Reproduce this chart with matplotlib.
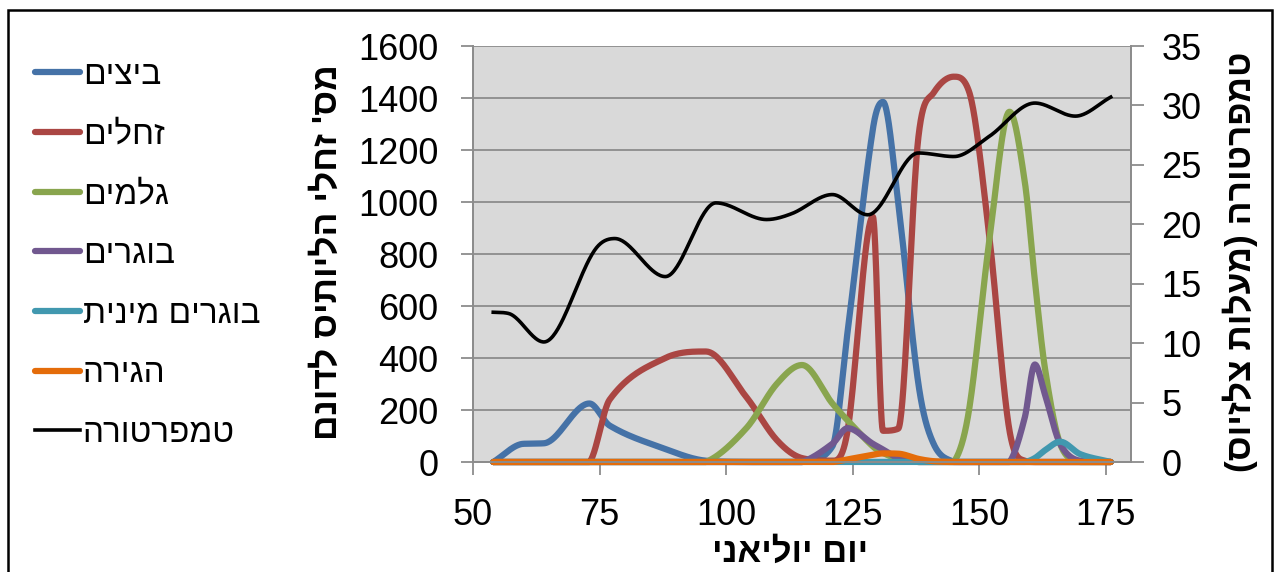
import numpy as np
import matplotlib.pyplot as plt
from matplotlib.patches import Rectangle

plt.rcParams['font.family'] = ['Liberation Sans', 'DejaVu Sans']
NARROW = ['Liberation Sans Narrow', 'Liberation Sans', 'DejaVu Sans']

W, H = 1279, 572

# sampling days (Julian day) for the insect counts
days = [54, 60, 64, 73, 77, 88, 96, 104, 110, 115, 121, 124, 129, 131, 134,
        138, 141, 145, 148, 152, 156, 159, 161, 163, 166, 170, 176]

eggs = [0, 70, 72, 225, 140, 50, 5, 0, 0, 0, 60, 500, 1280, 1385, 1000,
        300, 70, 0, 0, 0, 0, 0, 0, 0, 0, 0, 0]
larvae = [0, 0, 0, 0, 240, 400, 425, 250, 85, 15, 5, 120, 943, 120, 128,
          1250, 1420, 1482, 1425, 870, 120, 5, 0, 0, 0, 0, 0]
pupae = [0, 0, 0, 0, 0, 0, 0, 130, 300, 373, 225, 160, 60, 35, 12,
         0, 0, 0, 200, 850, 1347, 1080, 700, 360, 70, 0, 0]
adults = [0, 0, 0, 0, 0, 0, 0, 0, 0, 0, 70, 130, 70, 48, 15,
          0, 0, 0, 0, 0, 0, 170, 375, 260, 70, 5, 0]
mature_adults = [0, 0, 0, 0, 0, 0, 0, 0, 0, 0, 0, 0, 0, 0, 0,
                 0, 0, 0, 0, 0, 0, 0, 15, 45, 78, 30, 0]
migration = [0, 0, 0, 0, 0, 0, 0, 0, 0, 0, 0, 10, 28, 33, 32,
             12, 3, 0, 0, 0, 0, 0, 0, 0, 0, 0, 0]

temp_days = [54, 57, 64, 74, 78, 88, 98, 108, 113, 121, 128, 138,
             145, 152, 161, 169, 176]
temperature = [12.6, 12.5, 10.1, 17.8, 18.8, 15.6, 21.8, 20.4,
               20.9, 22.5, 20.8, 26.0, 25.7, 27.4, 30.2, 29.1, 30.7]

names = ["ביצים", "זחלים", "גלמים", "בוגרים", "בוגרים מינית", "הגירה"]
colors = ["#4572A7", "#AA4643", "#89A54E", "#71588F", "#4198AF", "#E46C0A"]
temp_name = "טמפרטורה"


def heb(s):
    # matplotlib lays text out left to right, so flip Hebrew to visual order
    return s[::-1].translate(str.maketrans("()", ")("))


def smooth(x, y, n=40, floor=None):
    # cubic Hermite with centred tangents, flattened at peaks and limited
    # (Fritsch-Carlson) so the curve does not overshoot between points
    x = np.asarray(x, float)
    y = np.asarray(y, float)
    h = np.diff(x)
    d = np.diff(y) / h
    m = np.zeros_like(y)
    m[0], m[-1] = d[0], d[-1]
    for k in range(1, len(y) - 1):
        if d[k - 1] * d[k] >= 0:
            m[k] = (y[k + 1] - y[k - 1]) / (x[k + 1] - x[k - 1])
    for k in range(len(h)):
        if d[k] == 0:
            continue
        a, b = m[k] / d[k], m[k + 1] / d[k]
        r = np.hypot(a, b)
        if r > 3:
            m[k] = 3 * a / r * d[k]
            m[k + 1] = 3 * b / r * d[k]
    t = np.linspace(0, 1, n)
    xs, ys = [], []
    for k in range(len(h)):
        h00 = 2 * t**3 - 3 * t**2 + 1
        h10 = t**3 - 2 * t**2 + t
        h01 = -2 * t**3 + 3 * t**2
        h11 = t**3 - t**2
        xs.append(x[k] + t * h[k])
        ys.append(h00 * y[k] + h10 * h[k] * m[k] + h01 * y[k + 1] + h11 * h[k] * m[k + 1])
    ys = np.concatenate(ys)
    if floor is not None:
        ys = np.maximum(ys, floor)
    return np.concatenate(xs), ys


fig = plt.figure(figsize=(W / 100, H / 100), dpi=100)
ax = fig.add_axes([473 / W, 1 - 462 / H, (1131 - 473) / W, (462 - 46) / H])
ax.set_facecolor("#D9D9D9")
ax2 = ax.twinx()

handles = []
for name, vals, c in zip(names, [eggs, larvae, pupae, adults, mature_adults, migration], colors):
    sx, sy = smooth(days, vals, floor=0)
    line, = ax.plot(sx, sy, color=c, lw=4.5, solid_capstyle="round",
                    solid_joinstyle="round", clip_on=False, label=heb(name))
    handles.append(line)

tx, ty = smooth(temp_days, temperature)
tline, = ax2.plot(tx, ty, color="black", lw=2.6, label=heb(temp_name))
handles.append(tline)

ax.set_xlim(50, 180)
ax.set_ylim(0, 1600)
ax2.set_ylim(0, 35)
ax.set_xticks(range(50, 176, 25))
ax.set_yticks(range(0, 1601, 200))
ax2.set_yticks(range(0, 36, 5))

ax.grid(axis="y", color="#8C8C8C", lw=1.3)
ax.set_axisbelow(True)
for a in (ax, ax2):
    a.spines["top"].set_visible(False)
    for s in ("left", "right", "bottom"):
        a.spines[s].set_color("#8C8C8C")
        a.spines[s].set_linewidth(1.3)

ax.tick_params(axis="y", direction="out", length=9, width=1.3, color="#8C8C8C",
               labelsize=26, pad=16)
ax.tick_params(axis="x", direction="out", length=9, width=1.3, color="#8C8C8C",
               labelsize=26, pad=17)
ax2.tick_params(axis="y", direction="out", length=9, width=1.3, color="#8C8C8C",
                labelsize=26, pad=13)
for lab in ax.get_xticklabels() + ax.get_yticklabels() + ax2.get_yticklabels():
    lab.set_family(NARROW)

fig.text(790 / W, 1 - 552 / H, heb("יום יוליאני"), ha="center", va="center",
         fontsize=25, fontweight="bold")
fig.text(327 / W, 1 - 252 / H, heb("מס' זחלי הליותיס לדונם"), ha="center",
         va="center", rotation=90, fontsize=25.5, fontweight="bold")
fig.text(1240 / W, 1 - 262 / H, heb("טמפרטורה (מעלות צלזיוס)"), ha="center",
         va="center", rotation=90, fontsize=25.5, fontweight="bold")

fig.legend(handles=handles, loc="upper left", bbox_to_anchor=(35 / W, 1 - 60 / H),
           frameon=False, fontsize=24, handlelength=1.35, handletextpad=0.08,
           labelspacing=0.86, borderpad=0, borderaxespad=0)

# chart frame
fig.patches.append(Rectangle((8 / W, -0.1), (1272 - 8) / W, 1.1 - 10 / H,
                             transform=fig.transFigure, fill=False,
                             edgecolor="black", lw=1.8))

fig.savefig("out.png", dpi=100)
